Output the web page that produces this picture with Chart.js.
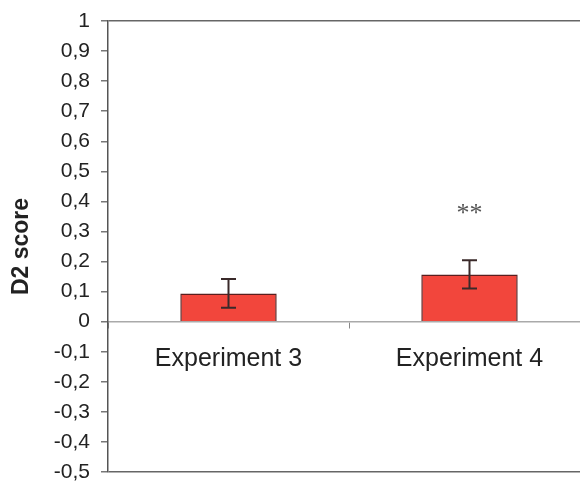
<!DOCTYPE html>
<html>
<head>
<meta charset="utf-8">
<script src="https://cdn.jsdelivr.net/npm/chart.js@4.4.0/dist/chart.umd.min.js"></script>
<style>
  html, body { margin: 0; padding: 0; background: #fff; overflow: hidden; }
  #wrap { width: 590px; height: 483px; }
</style>
</head>
<body>
<div id="wrap"><canvas id="chart" width="590" height="483"></canvas></div>
<script>
// ===== Data =====
const categories = ['Experiment 3', 'Experiment 4'];
const scores     = [0.094, 0.157];
const errors     = [0.048, 0.047];
const sigLabels  = ['', '**'];
const sigLevels  = [null, 0.37];

// ===== Plugins =====
const errorBars = {
  id: 'errorBars',
  afterDatasetsDraw(chart) {
    const { ctx, scales: { x, y } } = chart;
    ctx.save();
    ctx.strokeStyle = '#3a2a2a';
    ctx.lineWidth = 2;
    scores.forEach((v, i) => {
      const cx = x.getPixelForValue(i);
      const top = y.getPixelForValue(v + errors[i]);
      const bot = y.getPixelForValue(v - errors[i]);
      ctx.beginPath();
      ctx.moveTo(cx, top); ctx.lineTo(cx, bot);
      ctx.moveTo(cx - 7.5, top); ctx.lineTo(cx + 7.5, top);
      ctx.moveTo(cx - 7.5, bot); ctx.lineTo(cx + 7.5, bot);
      ctx.stroke();
    });
    // significance marks
    ctx.fillStyle = '#555';
    ctx.font = '26px "Liberation Serif"';
    ctx.textAlign = 'center';
    ctx.textBaseline = 'middle';
    sigLabels.forEach((s, i) => {
      if (!s) return;
      ctx.fillText(s, x.getPixelForValue(i), y.getPixelForValue(sigLevels[i]) + 4);
    });
    ctx.restore();
  }
};

const fmtTick = v => {
  const r = Math.round(v * 10) / 10;
  if (r === 0) return '0';
  if (r === 1) return '1';
  return r.toFixed(1).replace('.', ',');
};

new Chart(document.getElementById('chart'), {
  type: 'bar',
  data: {
    labels: categories,
    datasets: [{
      data: scores,
      backgroundColor: '#f2463c',
      borderColor: '#5a1e1e',
      borderWidth: 1.5,
      categoryPercentage: 1,
      barPercentage: 0.4,
    }],
  },
  options: {
    responsive: false,
    animation: false,
    layout: { padding: { top: 21, bottom: 11, left: 0, right: 0 } },
    plugins: { legend: { display: false }, tooltip: { enabled: false } },
    scales: {
      x: {
        position: { y: 0 },
        afterFit: s => { s.height = 0; s.paddingLeft = 0; s.paddingRight = 0; s.paddingTop = 0; s.paddingBottom = 0; },
        grid: {
          offset: true,
          drawOnChartArea: false,
          drawTicks: true,
          tickLength: 6,
          color: '#888',
          tickColor: '#888',
        },
        border: { display: true, color: '#aaa', width: 1.5 },
        ticks: {
          color: '#222',
          padding: 16,
          font: { family: '"Liberation Sans", Arial', size: 25 },
        },
      },
      y: {
        min: -0.5,
        max: 1,
        afterFit: s => { s.width = 108; s.paddingTop = 0; s.paddingBottom = 0; },
        ticks: {
          stepSize: 0.1,
          color: '#222',
          padding: 11,
          font: { family: '"Liberation Sans", Arial', size: 21 },
          callback: v => fmtTick(v),
        },
        grid: {
          tickLength: 7,
          color: ctx => {
            const v = Math.round(ctx.tick.value * 10) / 10;
            return (v === 1 || v === -0.5) ? '#666' : 'rgba(0,0,0,0)';
          },
          lineWidth: 1.5,
          tickColor: '#777',
        },
        border: { display: true, color: '#555', width: 1.5 },
        title: {
          display: true,
          text: 'D2 score',
          color: '#222',
          padding: { top: 8, bottom: 0 },
          font: { family: '"Liberation Sans", Arial', size: 23, weight: 'bold' },
        },
      },
    },
  },
  plugins: [errorBars],
});
</script>
</body>
</html>
